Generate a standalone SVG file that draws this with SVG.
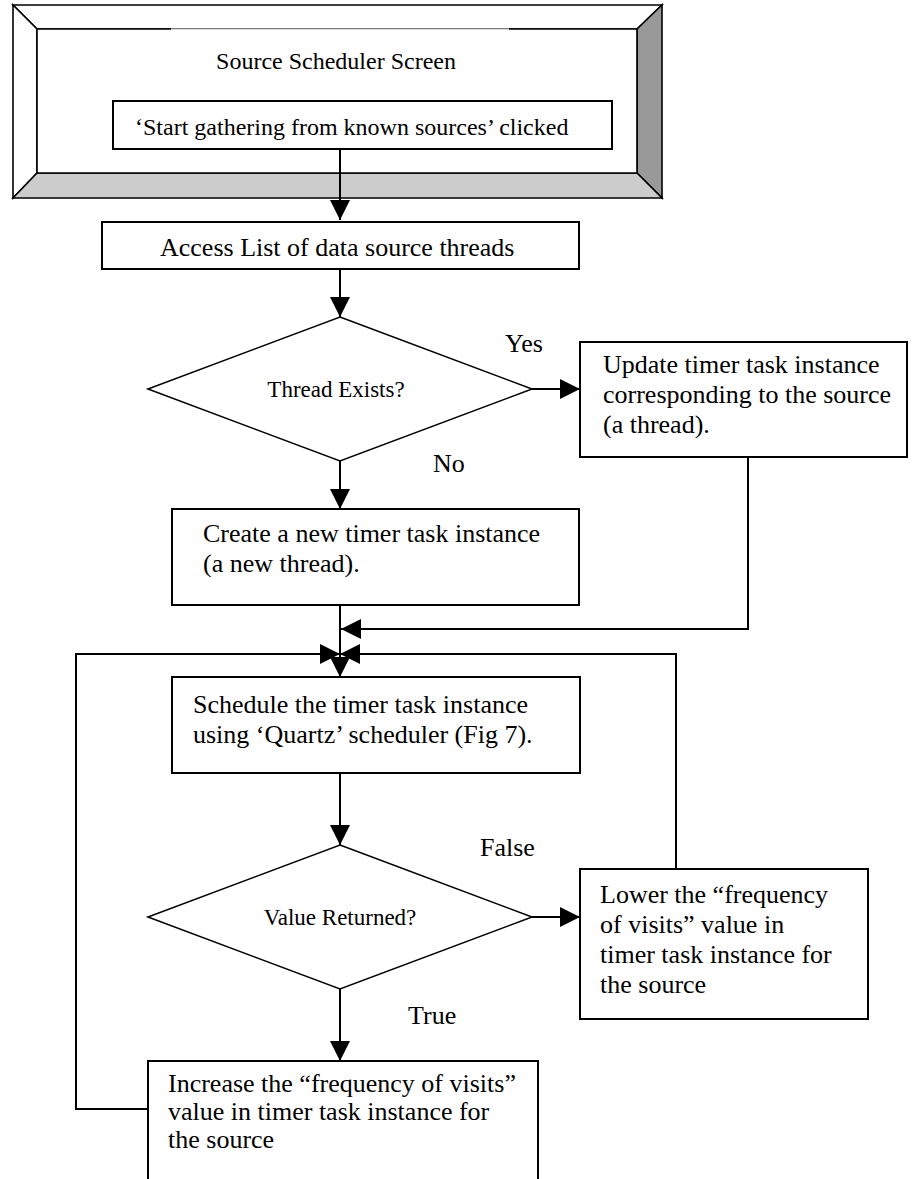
<svg xmlns="http://www.w3.org/2000/svg" width="916" height="1179" viewBox="0 0 916 1179">
<style>
  .box { fill: #fff; stroke: #000; stroke-width: 2; }
  .dia { fill: #fff; stroke: #000; stroke-width: 1.6; }
  .t { font-family: "Liberation Serif", "Times New Roman", serif; font-size: 26px; fill: #000; }
  .ts { font-family: "Liberation Serif", "Times New Roman", serif; font-size: 24px; fill: #000; }
  .td { font-family: "Liberation Serif", "Times New Roman", serif; font-size: 23px; fill: #000; }
  .conn { fill: none; stroke: #000; stroke-width: 2; }
  .bev { stroke: #000; stroke-width: 1.6; stroke-linejoin: miter; }
</style>
<defs>
  <marker id="ah" viewBox="0 0 20 20" refX="20" refY="10" markerWidth="20" markerHeight="20" markerUnits="userSpaceOnUse" orient="auto">
    <path d="M0,0 L20,10 L0,20 Z" fill="#000"/>
  </marker>
</defs>
<rect width="916" height="1179" fill="#fff"/>

<g id="screen">
  <polygon class="bev" points="13,5 662,5 637,29 37,29" fill="#fff"/>
  <polygon class="bev" points="13,5 37,29 37,173 13,198" fill="#fff"/>
  <polygon class="bev" points="662,5 662,198 637,173 637,29" fill="#999"/>
  <polygon class="bev" points="13,198 37,173 637,173 662,198" fill="#ccc"/>
  <rect x="37" y="29" width="600" height="144" fill="#fff"/>
  <line x1="37" y1="29" x2="171" y2="29" stroke="#000" stroke-width="1.6"/>
  <line x1="171" y1="29" x2="509" y2="29" stroke="#bbb" stroke-width="1.2"/>
  <line x1="509" y1="29" x2="637" y2="29" stroke="#000" stroke-width="1.6"/>
  <line x1="37" y1="29" x2="37" y2="173" stroke="#000" stroke-width="1.6"/>
  <line x1="637" y1="29" x2="637" y2="173" stroke="#000" stroke-width="1.6"/>
  <line x1="37" y1="173" x2="637" y2="173" stroke="#000" stroke-width="1.6"/>
  <text class="ts" x="336" y="69" text-anchor="middle">Source Scheduler Screen</text>
</g>

<g id="start">
  <rect class="box" x="113" y="101" width="499" height="48"/>
  <text class="ts" x="135" y="135">‘Start gathering from known sources’ clicked</text>
</g>

<g id="access">
  <rect class="box" x="102" y="222" width="477" height="47"/>
  <text class="t" x="160" y="256">Access List of data source threads</text>
</g>

<g id="thread-exists">
  <polygon class="dia" points="340,317 532,389 340,461 148,389"/>
  <text class="td" x="336" y="397" text-anchor="middle">Thread Exists?</text>
</g>

<g id="update">
  <rect class="box" x="580" y="342" width="327" height="115"/>
  <text class="t" x="603" y="373">Update timer task instance</text>
  <text class="t" x="603" y="403">corresponding to the source</text>
  <text class="t" x="603" y="433">(a thread).</text>
</g>

<g id="create">
  <rect class="box" x="172" y="509" width="407" height="96"/>
  <text class="t" x="203" y="542">Create a new timer task instance</text>
  <text class="t" x="203" y="572">(a new thread).</text>
</g>

<g id="schedule">
  <rect class="box" x="172" y="677" width="408" height="96"/>
  <text class="t" x="193" y="713">Schedule the timer task instance</text>
  <text class="t" x="193" y="743">using ‘Quartz’ scheduler (Fig 7).</text>
</g>

<g id="value-returned">
  <polygon class="dia" points="340,845 532,917 340,989 148,917"/>
  <text class="td" x="340" y="925" text-anchor="middle">Value Returned?</text>
</g>

<g id="lower">
  <rect class="box" x="580" y="869" width="288" height="150"/>
  <text class="t" x="600" y="903">Lower the “frequency</text>
  <text class="t" x="600" y="933">of visits” value in</text>
  <text class="t" x="600" y="963">timer task instance for</text>
  <text class="t" x="600" y="993">the source</text>
</g>

<g id="increase">
  <rect class="box" x="148" y="1061" width="390" height="140"/>
  <text class="t" x="168" y="1092">Increase the “frequency of visits”</text>
  <text class="t" x="168" y="1120">value in timer task instance for</text>
  <text class="t" x="168" y="1148">the source</text>
</g>

<g id="connectors">
  <path class="conn" d="M340,149 L340,220" marker-end="url(#ah)"/>
  <path class="conn" d="M340,269 L340,317" marker-end="url(#ah)"/>
  <path class="conn" d="M532,389 L580,389" marker-end="url(#ah)"/>
  <path class="conn" d="M340,461 L340,509" marker-end="url(#ah)"/>
  <path class="conn" d="M340,605 L340,677" marker-end="url(#ah)"/>
  <path class="conn" d="M748,457 L748,629 L341,629" marker-end="url(#ah)"/>
  <path class="conn" d="M148,1109 L76,1109 L76,654 L340,654" marker-end="url(#ah)"/>
  <path class="conn" d="M676,869 L676,654 L340,654" marker-end="url(#ah)"/>
  <path class="conn" d="M340,773 L340,845" marker-end="url(#ah)"/>
  <path class="conn" d="M532,917 L580,917" marker-end="url(#ah)"/>
  <path class="conn" d="M340,989 L340,1061" marker-end="url(#ah)"/>
  <text class="t" x="505" y="352">Yes</text>
  <text class="t" x="433" y="472">No</text>
  <text class="t" x="480" y="856">False</text>
  <text class="t" x="408" y="1024">True</text>
</g>
</svg>
